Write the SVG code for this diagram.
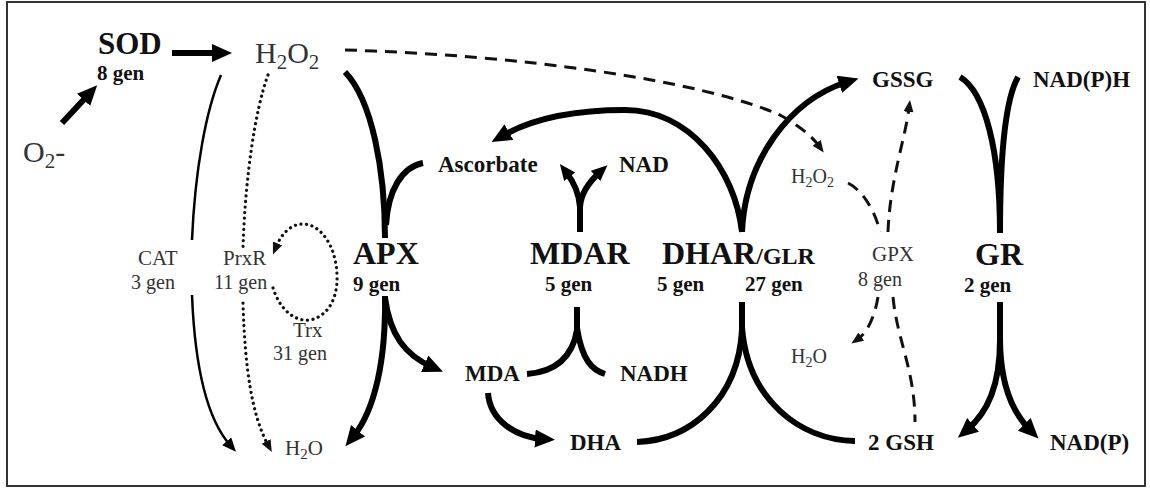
<svg xmlns="http://www.w3.org/2000/svg" width="1150" height="489" viewBox="0 0 1150 489">
<style>
.b{font-family:"Liberation Serif","Times New Roman",serif;font-weight:bold;fill:#111}
.r{font-family:"Liberation Serif","Times New Roman",serif;fill:#333}
.enz{font-size:32px}
.gen{font-size:21px}
.sp{font-size:23px}
.lbl{font-size:21px}
.lg{font-size:20px}
.thick{fill:none;stroke:#000;stroke-width:6}
.thin{fill:none;stroke:#000;stroke-width:2.5}
.dot{fill:none;stroke:#111;stroke-width:3.2;stroke-dasharray:0.1 5.5;stroke-linecap:round}
.dash{fill:none;stroke:#111;stroke-width:3;stroke-dasharray:12 8}
</style>
<defs>
<marker id="big" markerUnits="userSpaceOnUse" markerWidth="22" markerHeight="20" refX="8" refY="9" orient="auto"><path d="M0,0 L20,9 L0,18 Z" fill="#000"/></marker>
<marker id="mid" markerUnits="userSpaceOnUse" markerWidth="18" markerHeight="16" refX="6" refY="7" orient="auto"><path d="M0,0 L16,7 L0,14 Z" fill="#000"/></marker>
<marker id="thinh" markerUnits="userSpaceOnUse" markerWidth="16" markerHeight="14" refX="5" refY="6" orient="auto"><path d="M0,0 L14,6 L0,12 Z" fill="#000"/></marker>
<marker id="sm" markerUnits="userSpaceOnUse" markerWidth="14" markerHeight="12" refX="4" refY="5" orient="auto"><path d="M0,0 L12,5 L0,10 Z" fill="#111"/></marker>
</defs>
<rect x="7" y="2" width="1138" height="484" fill="#fff" stroke="#333" stroke-width="2"/>

<g id="connectors">
<path class="thick" d="M172,53 L220,53" marker-end="url(#big)"/>
<path class="thick" d="M62,123 L89,94" marker-end="url(#big)"/>
<path class="thin" d="M221,75 C206,110 195,170 192,240"/>
<path class="thin" d="M192,295 C195,370 208,420 230,445" marker-end="url(#thinh)"/>
<path class="dot" d="M268,75 C255,110 245,180 243,248"/>
<path class="dot" d="M243,303 C245,370 252,415 268,445" marker-end="url(#sm)"/>
<path class="dot" d="M273,288 C280,310 295,322 310,320 C330,316 338,295 337,275 C336,245 320,224 303,224 C290,224 281,235 276,247" marker-end="url(#sm)"/>
<path class="thick" d="M345,72 C372,100 385,170 385,238"/>
<path class="thick" d="M423,163 C402,167 388,190 386,225"/>
<path class="thick" d="M385,296 C386,360 375,410 353,437" marker-end="url(#big)"/>
<path class="thick" d="M385,298 C390,335 405,355 432,367" marker-end="url(#big)"/>
<path class="thick" d="M580,232 L580,205"/>
<path class="thick" d="M580,207 C579,192 573,181 566,172" marker-end="url(#mid)"/>
<path class="thick" d="M580,207 C581,192 590,181 600,172" marker-end="url(#mid)"/>
<path class="thick" d="M577,307 L577,330 C572,360 552,372 527,374"/>
<path class="thick" d="M577,328 C582,360 592,370 605,374"/>
<path class="thick" d="M488,393 C490,420 515,437 543,439" marker-end="url(#big)"/>
<path class="thick" d="M742,232 C735,170 690,110 625,110 C570,110 530,120 502,136" marker-end="url(#big)"/>
<path class="thick" d="M742,232 C745,160 790,100 847,82" marker-end="url(#big)"/>
<path class="thick" d="M742,302 L742,330 C738,400 690,440 637,442"/>
<path class="thick" d="M742,328 C748,400 800,440 855,441"/>
<path class="thick" d="M960,77 C985,92 1000,150 1000,233"/>
<path class="thick" d="M1018,77 C1005,100 1000,160 1000,233"/>
<path class="thick" d="M1000,302 L1000,340 C1000,385 988,412 967,430" marker-end="url(#big)"/>
<path class="thick" d="M1000,338 C1000,385 1012,412 1030,430" marker-end="url(#big)"/>
<path class="dash" d="M345,50 C520,55 700,80 780,115 C798,125 811,135 819,146" marker-end="url(#sm)"/>
<path class="dash" d="M848,183 C862,190 875,210 880,232"/>
<path class="dash" d="M888,232 C890,180 905,140 909,108" marker-end="url(#sm)"/>
<path class="dash" d="M878,297 C875,315 868,332 858,339" marker-end="url(#sm)"/>
<path class="dash" d="M893,297 C897,340 915,370 915,422"/>
</g>

<g id="O2"><text class="r" x="23" y="162" font-size="30">O<tspan font-size="21" dy="6">2</tspan><tspan dy="-6">-</tspan></text></g>
<g id="SOD"><text class="b" x="98" y="54" font-size="31">SOD</text><text class="b" x="97" y="80" font-size="21">8 gen</text></g>
<g id="H2O2"><text class="r" x="255" y="63" font-size="30">H<tspan font-size="21" dy="6">2</tspan><tspan dy="-6">O</tspan><tspan font-size="21" dy="6">2</tspan></text></g>
<g id="CAT"><text class="r lbl" x="138" y="265">CAT</text><text class="r lg" x="131" y="289">3 gen</text></g>
<g id="PrxR"><text class="r lbl" x="223" y="265">PrxR</text><text class="r lg" x="214" y="289">11 gen</text></g>
<g id="Trx"><text class="r lbl" x="293" y="337">Trx</text><text class="r lg" x="273" y="360">31 gen</text></g>
<g id="H2O-left"><text class="r lbl" x="285" y="455">H<tspan font-size="15" dy="4">2</tspan><tspan dy="-4">O</tspan></text></g>
<g id="APX"><text class="b enz" x="353" y="264">APX</text><text class="b gen" x="353" y="291">9 gen</text></g>
<g id="Ascorbate"><text class="b sp" x="438" y="172">Ascorbate</text></g>
<g id="NAD"><text class="b sp" x="619" y="172">NAD</text></g>
<g id="MDAR"><text class="b enz" x="530" y="264">MDAR</text><text class="b gen" x="545" y="291">5 gen</text></g>
<g id="DHAR"><text class="b enz" x="662" y="264">DHAR<tspan font-size="24">/GLR</tspan></text><text class="b gen" x="657" y="291">5 gen</text><text class="b gen" x="745" y="291">27 gen</text></g>
<g id="MDA"><text class="b sp" x="465" y="381">MDA</text></g>
<g id="NADH"><text class="b sp" x="620" y="381">NADH</text></g>
<g id="DHA"><text class="b sp" x="570" y="450">DHA</text></g>
<g id="GSH"><text class="b sp" x="868" y="450">2 GSH</text></g>
<g id="NADP"><text class="b sp" x="1050" y="450">NAD(P)</text></g>
<g id="GSSG"><text class="b sp" x="872" y="87">GSSG</text></g>
<g id="NADPH"><text class="b sp" x="1033" y="87">NAD(P)H</text></g>
<g id="GPX"><text class="r lbl" x="872" y="261">GPX</text><text class="r lg" x="858" y="286">8 gen</text></g>
<g id="GR"><text class="b enz" x="975" y="265">GR</text><text class="b gen" x="964" y="292">2 gen</text></g>
<g id="H2O2-small"><text class="r" x="791" y="183" font-size="20">H<tspan font-size="14" dy="4">2</tspan><tspan dy="-4">O</tspan><tspan font-size="14" dy="4">2</tspan></text></g>
<g id="H2O-small"><text class="r" x="791" y="363" font-size="20">H<tspan font-size="14" dy="4">2</tspan><tspan dy="-4">O</tspan></text></g>
</svg>
